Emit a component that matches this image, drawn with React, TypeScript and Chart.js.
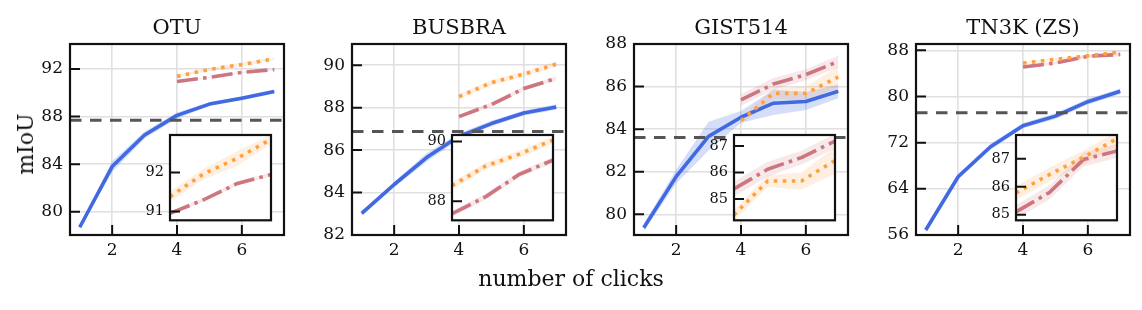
import React, { useEffect, useRef } from "react";
import { Chart, registerables } from "chart.js";

Chart.register(...registerables);

// ---------- data ----------
const clicks = [1, 2, 3, 4, 5, 6, 7];
const insetClicks = [4, 5, 6, 7];
const xTicks = [2, 4, 6];
const titles = ["OTU", "BUSBRA", "GIST514", "TN3K (ZS)"];

// OTU
const otuBlue = [78.7, 83.8, 86.45, 88.1, 89.05, 89.55, 90.1];
const otuBlueLo = [78.55, 83.35, 86.15, 87.85, 88.9, 89.4, 89.95];
const otuBlueHi = [78.85, 84.25, 86.75, 88.35, 89.2, 89.7, 90.25];
const otuOrange = [91.38, 91.97, 92.37, 92.86];
const otuOrangeLo = [91.25, 91.83, 92.18, 92.74];
const otuOrangeHi = [91.52, 92.1, 92.55, 92.98];
const otuPink = [90.95, 91.3, 91.72, 91.95];
const otuPinkLo = [90.9, 91.25, 91.67, 91.9];
const otuPinkHi = [91.0, 91.35, 91.77, 92.0];
const otuBaseline = 87.7;
const otuYTicks = [80, 84, 88, 92];
const otuInsetTicks = [91, 92];

// BUSBRA
const busBlue = [83.02, 84.38, 85.65, 86.65, 87.25, 87.75, 88.03];
const busBlueLo = [82.9, 84.25, 85.45, 86.5, 87.12, 87.63, 87.9];
const busBlueHi = [83.14, 84.5, 85.85, 86.8, 87.38, 87.87, 88.16];
const busOrange = [88.52, 89.18, 89.58, 90.05];
const busOrangeLo = [88.4, 89.06, 89.46, 89.93];
const busOrangeHi = [88.64, 89.3, 89.7, 90.17];
const busPink = [87.58, 88.15, 88.9, 89.38];
const busPinkLo = [87.48, 88.05, 88.8, 89.28];
const busPinkHi = [87.68, 88.25, 89.0, 89.48];
const busBaseline = 86.88;
const busYTicks = [82, 84, 86, 88, 90];
const busInsetTicks = [88, 90];

// GIST514
const gistBlue = [79.37, 81.77, 83.66, 84.56, 85.22, 85.3, 85.78];
const gistBlueLo = [79.2, 81.45, 83.0, 84.3, 84.66, 84.9, 85.45];
const gistBlueHi = [79.55, 82.1, 84.35, 84.85, 85.85, 85.75, 86.1];
const gistOrange = [84.4, 85.68, 85.68, 86.45];
const gistOrangeLo = [84.2, 85.45, 85.35, 85.95];
const gistOrangeHi = [84.6, 85.9, 86.0, 86.95];
const gistPink = [85.38, 86.12, 86.56, 87.18];
const gistPinkLo = [85.1, 85.85, 86.3, 86.9];
const gistPinkHi = [85.65, 86.4, 86.82, 87.45];
const gistBaseline = 83.61;
const gistYTicks = [80, 82, 84, 86, 88];
const gistInsetTicks = [85, 86, 87];

// TN3K (ZS)
const tnBlue = [56.87, 66.1, 71.3, 74.95, 76.6, 79.1, 80.9];
const tnBlueLo = [56.4, 65.6, 70.8, 74.5, 76.1, 78.6, 80.4];
const tnBlueHi = [57.3, 66.6, 71.8, 75.4, 77.1, 79.6, 81.4];
const tnOrange = [85.78, 86.44, 87.05, 87.72];
const tnOrangeLo = [85.53, 86.19, 86.8, 87.47];
const tnOrangeHi = [86.03, 86.69, 87.3, 87.97];
const tnPink = [85.1, 85.8, 86.97, 87.28];
const tnPinkLo = [84.85, 85.55, 86.72, 87.03];
const tnPinkHi = [85.35, 86.05, 87.22, 87.53];
const tnBaseline = 77.17;
const tnYTicks = [56, 64, 72, 80, 88];
const tnInsetTicks = [85, 86, 87];

// axis limits
const xRange = [0.7, 7.3];
const insetXRange = [4, 7];
const yRanges = [
  [78.05, 94.1],
  [82, 91],
  [79.03, 88],
  [56, 89.1],
];
const insetYRanges = [
  [90.77, 92.97],
  [87.36, 90.22],
  [84.2, 87.41],
  [84.8, 87.85],
];

const panels = [
  { blue: [otuBlue, otuBlueLo, otuBlueHi], orange: [otuOrange, otuOrangeLo, otuOrangeHi], pink: [otuPink, otuPinkLo, otuPinkHi], baseline: otuBaseline, yTicks: otuYTicks, insetTicks: otuInsetTicks },
  { blue: [busBlue, busBlueLo, busBlueHi], orange: [busOrange, busOrangeLo, busOrangeHi], pink: [busPink, busPinkLo, busPinkHi], baseline: busBaseline, yTicks: busYTicks, insetTicks: busInsetTicks },
  { blue: [gistBlue, gistBlueLo, gistBlueHi], orange: [gistOrange, gistOrangeLo, gistOrangeHi], pink: [gistPink, gistPinkLo, gistPinkHi], baseline: gistBaseline, yTicks: gistYTicks, insetTicks: gistInsetTicks },
  { blue: [tnBlue, tnBlueLo, tnBlueHi], orange: [tnOrange, tnOrangeLo, tnOrangeHi], pink: [tnPink, tnPinkLo, tnPinkHi], baseline: tnBaseline, yTicks: tnYTicks, insetTicks: tnInsetTicks },
];

// ---------- style / layout ----------
const FONT = "'DejaVu Serif', serif";
const BLUE = "#4169e1";
const BLUE_BAND = "rgba(65,105,225,0.22)";
const ORANGE = "#ffa040";
const ORANGE_BAND = "rgba(255,160,70,0.17)";
const PINK = "#cd7680";
const PINK_BAND = "rgba(205,118,128,0.17)";
const GRID = "#e0e0e0";
const LW = 3.6;

const PLOT_LEFTS = [70, 352, 634, 916];
const PLOT_W = 214;
const PLOT_TOP = 44;
const PLOT_BOTTOM = 235;
const MAIN_LABEL_W = 65;
const MAIN_RIGHT_PAD = 10;
const MAIN_H = 275;

const INSET_OFF = 100;
const INSET_W = 101;
const INSET_TOP = 135;
const INSET_BOTTOM = 221;
const INSET_LABEL_W = 40;
const INSET_CANVAS_TOP = 120;
const INSET_CANVAS_H = 115;

const pts = (xs: number[], ys: number[]) => xs.map((x, i) => ({ x, y: ys[i] }));

function seriesSets(xs: number[], s: number[][], color: string, band: string, dash: number[], order: number) {
  return [
    { data: pts(xs, s[2]), borderWidth: 0, pointRadius: 0, fill: "+1", backgroundColor: band, order: 20 + order },
    { data: pts(xs, s[1]), borderWidth: 0, pointRadius: 0, fill: false, order: 20 + order },
    {
      data: pts(xs, s[0]), borderColor: color, borderWidth: LW, borderDash: dash, pointRadius: 0,
      fill: false, borderCapStyle: "butt", borderJoinStyle: "round", order,
    },
  ];
}

function framePlugin(opts: any) {
  return {
    id: "frame",
    beforeDraw(chart: any) {
      if (opts.whiteBg) {
        const { ctx, chartArea: a } = chart;
        ctx.save();
        ctx.fillStyle = "#ffffff";
        ctx.fillRect(a.left, a.top, a.right - a.left, a.bottom - a.top);
        ctx.restore();
      }
    },
    afterDatasetsDraw(chart: any) {
      if (opts.baseline != null) {
        const { ctx, chartArea: a } = chart;
        const y = chart.scales.y.getPixelForValue(opts.baseline);
        ctx.save();
        ctx.strokeStyle = "#555555";
        ctx.lineWidth = 3;
        ctx.setLineDash([11.5, 8.5]);
        ctx.beginPath();
        ctx.moveTo(a.left, y);
        ctx.lineTo(a.right, y);
        ctx.stroke();
        ctx.restore();
      }
    },
    afterDraw(chart: any) {
      const { ctx, chartArea: a } = chart;
      ctx.save();
      ctx.strokeStyle = "#111111";
      ctx.lineWidth = 2;
      const tl = opts.tickLen;
      ctx.beginPath();
      for (const v of opts.yTicks) {
        const y = chart.scales.y.getPixelForValue(v);
        ctx.moveTo(a.left, y);
        ctx.lineTo(a.left + tl, y);
      }
      if (opts.xTicks) {
        for (const v of opts.xTicks) {
          const x = chart.scales.x.getPixelForValue(v);
          ctx.moveTo(x, a.bottom);
          ctx.lineTo(x, a.bottom - tl);
        }
      }
      ctx.stroke();
      ctx.lineWidth = 2.2;
      ctx.strokeRect(a.left, a.top, a.right - a.left, a.bottom - a.top);
      if (opts.title) {
        ctx.fillStyle = "#111111";
        ctx.font = `21px ${FONT}`;
        ctx.textAlign = "center";
        ctx.textBaseline = "alphabetic";
        ctx.fillText(opts.title, (a.left + a.right) / 2, 34);
      }
      ctx.restore();
    },
  };
}

function MainPanel({ idx }: { idx: number }) {
  const ref = useRef<HTMLCanvasElement>(null);
  const p = panels[idx];
  useEffect(() => {
    const datasets = [
      ...seriesSets(insetClicks, p.orange, ORANGE, ORANGE_BAND, [3.5, 5.5], 1),
      ...seriesSets(insetClicks, p.pink, PINK, PINK_BAND, [21, 5.3, 3.5, 5.3], 2),
      ...seriesSets(clicks, p.blue, BLUE, BLUE_BAND, [], 3),
    ];
    const chart = new Chart(ref.current as HTMLCanvasElement, {
      type: "line",
      data: { datasets } as any,
      options: {
        animation: false,
        responsive: false,
        devicePixelRatio: 1,
        layout: { padding: { top: PLOT_TOP, right: MAIN_RIGHT_PAD, left: 0, bottom: 0 } },
        plugins: { legend: { display: false }, tooltip: { enabled: false }, title: { display: false } },
        elements: { point: { radius: 0 }, line: { tension: 0 } },
        scales: {
          x: {
            type: "linear",
            min: xRange[0],
            max: xRange[1],
            afterBuildTicks: (s: any) => { s.ticks = xTicks.map((v) => ({ value: v })); },
            afterFit: (s: any) => { s.height = MAIN_H - PLOT_BOTTOM; },
            grid: { color: GRID, lineWidth: 1.6, drawTicks: false },
            border: { display: false },
            ticks: { padding: 5, color: "#111", font: { family: FONT, size: 17 }, maxRotation: 0, autoSkip: false },
          },
          y: {
            type: "linear",
            min: yRanges[idx][0],
            max: yRanges[idx][1],
            afterBuildTicks: (s: any) => { s.ticks = p.yTicks.map((v) => ({ value: v })); },
            afterFit: (s: any) => { s.width = MAIN_LABEL_W; },
            grid: { color: GRID, lineWidth: 1.6, drawTicks: false },
            border: { display: false },
            ticks: { padding: 7, color: "#111", font: { family: FONT, size: 17 }, autoSkip: false },
          },
        },
      } as any,
      plugins: [framePlugin({ baseline: p.baseline, yTicks: p.yTicks, xTicks, tickLen: 10, title: titles[idx] })],
    });
    return () => chart.destroy();
  }, []);
  return (
    <canvas
      ref={ref}
      width={MAIN_LABEL_W + PLOT_W + MAIN_RIGHT_PAD}
      height={MAIN_H}
      style={{ position: "absolute", left: PLOT_LEFTS[idx] - MAIN_LABEL_W, top: 0 }}
    />
  );
}

function InsetPanel({ idx }: { idx: number }) {
  const ref = useRef<HTMLCanvasElement>(null);
  const p = panels[idx];
  useEffect(() => {
    const datasets = [
      ...seriesSets(insetClicks, p.orange, ORANGE, ORANGE_BAND, [3.5, 5.5], 1),
      ...seriesSets(insetClicks, p.pink, PINK, PINK_BAND, [21, 5.3, 3.5, 5.3], 2),
    ];
    const chart = new Chart(ref.current as HTMLCanvasElement, {
      type: "line",
      data: { datasets } as any,
      options: {
        animation: false,
        responsive: false,
        devicePixelRatio: 1,
        layout: {
          padding: {
            top: INSET_TOP - INSET_CANVAS_TOP,
            right: 5,
            left: 0,
            bottom: INSET_CANVAS_TOP + INSET_CANVAS_H - INSET_BOTTOM,
          },
        },
        plugins: { legend: { display: false }, tooltip: { enabled: false }, title: { display: false } },
        elements: { point: { radius: 0 }, line: { tension: 0 } },
        scales: {
          x: { type: "linear", display: false, min: insetXRange[0], max: insetXRange[1] },
          y: {
            type: "linear",
            min: insetYRanges[idx][0],
            max: insetYRanges[idx][1],
            afterBuildTicks: (s: any) => { s.ticks = p.insetTicks.map((v) => ({ value: v })); },
            afterFit: (s: any) => { s.width = INSET_LABEL_W; },
            grid: { display: false, drawTicks: false },
            border: { display: false },
            ticks: { padding: 6, color: "#111", font: { family: FONT, size: 14.5 }, autoSkip: false },
          },
        },
      } as any,
      plugins: [framePlugin({ whiteBg: true, yTicks: p.insetTicks, tickLen: 10 })],
    });
    return () => chart.destroy();
  }, []);
  return (
    <canvas
      ref={ref}
      width={INSET_LABEL_W + INSET_W + 5}
      height={INSET_CANVAS_H}
      style={{ position: "absolute", left: PLOT_LEFTS[idx] + INSET_OFF - INSET_LABEL_W, top: INSET_CANVAS_TOP }}
    />
  );
}

export default function App() {
  return (
    <div style={{ position: "fixed", left: 0, top: 0, width: 1142, height: 310, background: "#ffffff", overflow: "hidden" }}>
      {[0, 1, 2, 3].map((i) => (
        <MainPanel key={"m" + i} idx={i} />
      ))}
      {[0, 1, 2, 3].map((i) => (
        <InsetPanel key={"i" + i} idx={i} />
      ))}
      <div
        style={{
          position: "absolute", left: 26, top: 143.5, transform: "translate(-50%,-50%) rotate(-90deg)",
          fontFamily: FONT, fontSize: 22, lineHeight: 1, whiteSpace: "nowrap", color: "#111",
        }}
      >
        mIoU
      </div>
      <div
        style={{
          position: "absolute", left: 571, top: 268, transform: "translateX(-50%)",
          fontFamily: FONT, fontSize: 22, lineHeight: 1, whiteSpace: "nowrap", color: "#111",
        }}
      >
        number of clicks
      </div>
    </div>
  );
}
